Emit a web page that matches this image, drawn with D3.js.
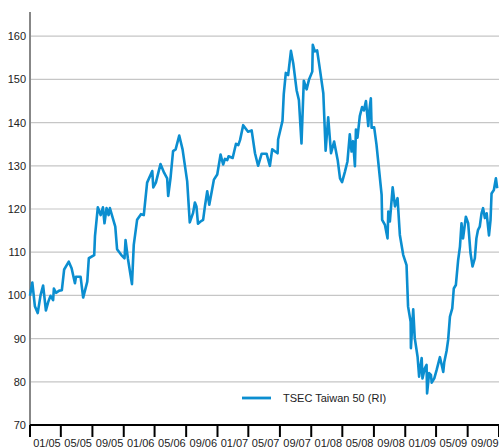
<!DOCTYPE html>
<html>
<head>
<meta charset="utf-8">
<script src="https://cdn.jsdelivr.net/npm/d3@7"></script>
<style>
  html, body { margin: 0; padding: 0; background: #fff; }
  svg { display: block; font-family: "Liberation Sans", Arial, sans-serif; }
</style>
</head>
<body>
<svg id="chart" width="499" height="447"></svg>
<script>
// TSEC Taiwan 50 (RI), rebased to 100
const dates = [
  "2005-01-01","2005-01-10","2005-01-20","2005-01-31","2005-02-11","2005-02-21","2005-03-04","2005-03-13",
  "2005-03-22","2005-04-01","2005-04-04","2005-04-12","2005-04-25","2005-05-05","2005-05-14","2005-06-01",
  "2005-06-12","2005-06-25","2005-06-29","2005-07-17","2005-07-27","2005-08-12","2005-08-18","2005-09-08",
  "2005-09-11","2005-09-22","2005-10-03","2005-10-12","2005-10-18","2005-10-26","2005-11-03","2005-11-08",
  "2005-11-29","2005-12-06","2005-12-22","2006-01-04","2006-01-08","2006-01-17","2006-02-02","2006-02-09",
  "2006-02-22","2006-03-09","2006-03-20","2006-04-02","2006-04-22","2006-04-26","2006-05-06","2006-05-24",
  "2006-06-07","2006-06-19","2006-06-23","2006-07-02","2006-07-12","2006-07-22","2006-08-05","2006-08-18",
  "2006-09-05","2006-09-15","2006-09-28","2006-10-05","2006-10-11","2006-10-17","2006-10-27","2006-11-06",
  "2006-11-13","2006-11-22","2006-11-30","2006-12-11","2006-12-18","2006-12-31","2007-01-13","2007-01-23",
  "2007-01-30","2007-02-08","2007-02-13","2007-03-01","2007-03-14","2007-03-23","2007-03-30","2007-04-11",
  "2007-04-30","2007-05-14","2007-05-27","2007-06-08","2007-06-22","2007-07-11","2007-07-24","2007-08-02",
  "2007-08-23","2007-08-25","2007-09-11","2007-09-16","2007-09-24","2007-10-03","2007-10-14","2007-10-23",
  "2007-11-05","2007-11-14","2007-11-24","2007-12-03","2007-12-14","2007-12-23","2008-01-05","2008-01-07",
  "2008-01-15","2008-01-24","2008-02-04","2008-02-17","2008-02-26","2008-03-07","2008-03-18","2008-03-30",
  "2008-04-13","2008-04-22","2008-04-30","2008-05-11","2008-05-21","2008-05-30","2008-06-06","2008-06-12",
  "2008-06-19","2008-06-23","2008-06-29","2008-07-08","2008-07-17","2008-07-24","2008-08-01","2008-08-10",
  "2008-08-14","2008-08-20","2008-08-23","2008-09-02","2008-09-11","2008-10-01","2008-10-03","2008-10-14",
  "2008-10-24","2008-10-27","2008-11-02","2008-11-13","2008-11-22","2008-12-02","2008-12-11","2008-12-24",
  "2009-01-06","2009-01-12","2009-01-22","2009-01-23","2009-02-01","2009-02-07","2009-02-18","2009-02-24",
  "2009-03-06","2009-03-09","2009-03-18","2009-03-25","2009-03-27","2009-04-04","2009-04-11","2009-04-14",
  "2009-04-24","2009-05-03","2009-05-16","2009-05-23","2009-05-29","2009-06-02","2009-06-11","2009-06-17",
  "2009-06-24","2009-07-03","2009-07-09","2009-07-17","2009-07-26","2009-08-02","2009-08-08","2009-08-14",
  "2009-08-25","2009-09-03","2009-09-12","2009-09-20","2009-09-29","2009-10-05","2009-10-11","2009-10-18",
  "2009-10-25","2009-10-31","2009-11-07","2009-11-14","2009-11-23","2009-11-29","2009-12-03","2009-12-12",
  "2009-12-20","2009-12-25"
];
const values = [
  99.9,103,97.5,95.9,100,102.3,96.5,98.5,
  99.9,98.9,101.6,100.6,101.1,101.2,106,107.8,
  106.3,102.8,104.3,104.3,99.5,103.2,108.6,109.3,
  113.7,120.4,118.6,120.4,116.7,120.2,118.6,120.2,
  115.9,110.7,109.4,108.6,112.8,108.6,102.6,111.7,
  117.5,118.8,118.6,126.1,128.8,125,126.1,130.4,
  128.4,127.1,123,127.1,133.4,133.8,137,133.8,
  126.4,116.9,119.1,121.5,120.6,116.6,117.1,117.5,
  120.6,124.1,121,124.5,126.8,128,132.6,130.3,
  131.6,131.3,132.2,131.8,135.1,134.8,136,139.4,
  137.9,138.2,132.9,130,132.8,132.8,130,133.8,
  132.9,136.1,140.4,146.6,151.5,151,156.6,153.7,
  147.5,145.2,135.2,149.7,147.7,149.9,151.8,158,
  156.5,156.7,152.2,146.8,133.5,141.2,132.9,135.6,
  131.3,127.1,126.2,128.6,131,137.3,133.3,135.7,
  129.9,138.4,136.5,141.5,143.6,142.8,145,139.2,
  142.7,145.6,138.8,138.9,134.9,123.3,117.5,116.3,
  113.2,119.4,117.1,125,120.6,122.5,114,109.4,
  107,97.4,93.9,87.8,96.8,90.1,85.8,81.2,
  85.5,80.8,83.1,83.9,77.3,82,81.6,79.8,
  80.8,82.7,85.7,83.9,82.3,84.6,87.2,89.7,
  95.1,97,101.6,102.4,108.2,111.3,116.7,113.2,
  118.2,116.7,109.8,106.7,108.6,113.2,115.1,115.9,
  119,120.2,117.9,119,113.9,117.4,123.6,124.4,
  127.1,124.8
];
const yTicks = [70, 80, 90, 100, 110, 120, 130, 140, 150, 160];
const seriesName = "TSEC Taiwan 50 (RI)";

const parse = d3.timeParse("%Y-%m-%d");
const data = dates.map((d, i) => ({date: parse(d), value: values[i]}));

const svg = d3.select("#chart");
const plotLeft = 30, plotRight = 499, plotBottom = 425, axisTop = 12;
const blue = "#0b8ed0";

const x = d3.scaleTime()
    .domain([new Date(2005, 0, 1), new Date(2010, 0, 1)])
    .range([plotLeft, plotRight]);
const y = d3.scaleLinear()
    .domain([70, 160])
    .range([plotBottom, 36.2]);

// gridlines
svg.append("g")
  .selectAll("line")
  .data(yTicks.filter(v => v > 70))
  .enter().append("line")
    .attr("x1", plotLeft + 1).attr("x2", plotRight)
    .attr("y1", d => y(d)).attr("y2", d => y(d))
    .attr("stroke", "#c6c6c6")
    .attr("stroke-width", 1.2);

// y labels
svg.append("g")
  .selectAll("text")
  .data(yTicks)
  .enter().append("text")
    .attr("x", plotLeft - 4)
    .attr("y", d => y(d))
    .attr("dy", "0.36em")
    .attr("text-anchor", "end")
    .attr("font-size", 11)
    .attr("fill", "#222")
    .text(d => d);

// left axis line
svg.append("line")
  .attr("x1", plotLeft).attr("x2", plotLeft)
  .attr("y1", axisTop).attr("y2", plotBottom)
  .attr("stroke", "#7a7a7a")
  .attr("stroke-width", 1.8);

// bottom axis + ticks
const monthTicks = d3.timeMonth.every(4).range(new Date(2005, 0, 1), new Date(2010, 0, 2));
svg.append("line")
  .attr("x1", plotLeft).attr("x2", plotRight)
  .attr("y1", plotBottom).attr("y2", plotBottom)
  .attr("stroke", "#000")
  .attr("stroke-width", 1.8);
svg.append("g")
  .selectAll("line")
  .data(monthTicks)
  .enter().append("line")
    .attr("x1", d => x(d)).attr("x2", d => x(d))
    .attr("y1", plotBottom).attr("y2", plotBottom + 12)
    .attr("stroke", "#000")
    .attr("stroke-width", 2);

const fmt = d3.timeFormat("%m/%y");
svg.append("g")
  .selectAll("text")
  .data(monthTicks.slice(0, -1))
  .enter().append("text")
    .attr("x", (d, i) => (x(d) + x(monthTicks[i + 1])) / 2 + 1.5)
    .attr("y", 447)
    .attr("text-anchor", "middle")
    .attr("font-size", 11)
    .attr("fill", "#222")
    .text(d => fmt(d));

// series line
const line = d3.line()
    .x(d => x(d.date))
    .y(d => y(d.value));

svg.append("path")
  .datum(data)
  .attr("d", line)
  .attr("fill", "none")
  .attr("stroke", blue)
  .attr("stroke-width", 2.6)
  .attr("stroke-linejoin", "round");

// legend
const legend = svg.append("g").attr("transform", "translate(242,398)");
legend.append("line")
  .attr("x1", 0).attr("x2", 29)
  .attr("stroke", blue)
  .attr("stroke-width", 2.8);
legend.append("text")
  .attr("x", 41)
  .attr("dy", "0.36em")
  .attr("font-size", 11)
  .attr("fill", "#222")
  .text(seriesName);
</script>
</body>
</html>
